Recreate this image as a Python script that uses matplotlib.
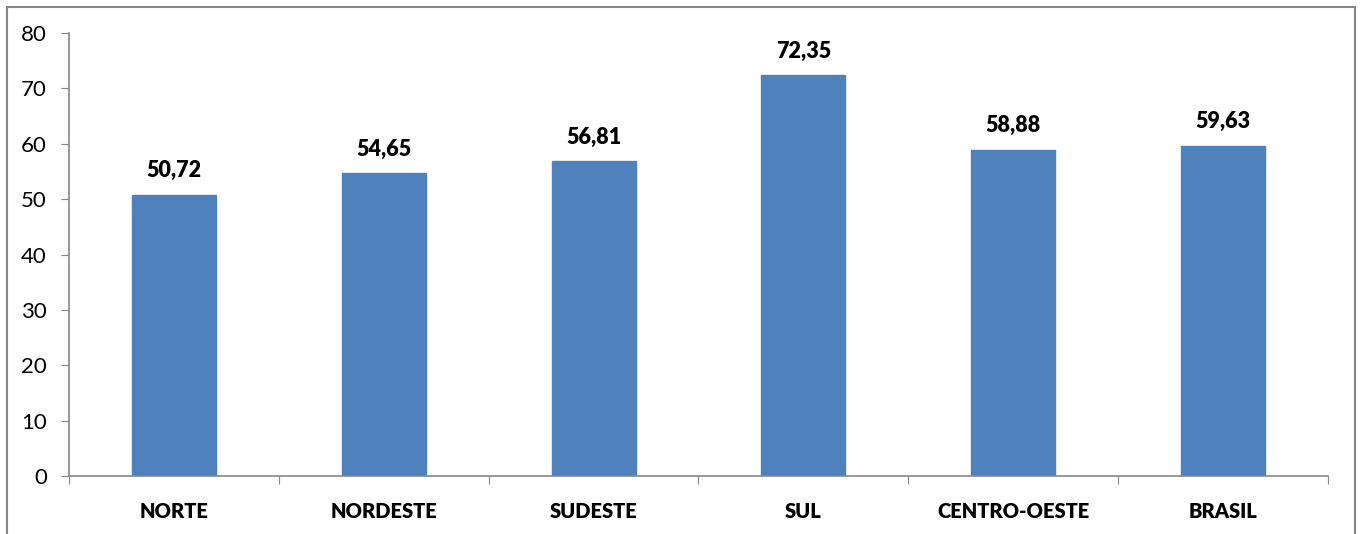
import matplotlib
matplotlib.use("Agg")
import matplotlib.pyplot as plt
from matplotlib.patches import Rectangle

# data
regioes = ["NORTE", "NORDESTE", "SUDESTE", "SUL", "CENTRO-OESTE", "BRASIL"]
valores = [50.72, 54.65, 56.81, 72.35, 58.88, 59.63]
y_ticks = [0, 10, 20, 30, 40, 50, 60, 70, 80]

plt.rcParams['font.family'] = ['Lato', 'DejaVu Sans']

fig = plt.figure(figsize=(13.61, 5.34), dpi=100)
ax = fig.add_axes([0.0507, 0.1086, 0.925, 0.8296])

# outer chart border (Excel-style frame)
fig.patches.append(Rectangle((7 / 1361, -0.05), 1348 / 1361, 1.05 - 7 / 534,
                             transform=fig.transFigure, fill=False,
                             edgecolor="#868686", linewidth=1.5))

x = list(range(len(regioes)))
bars = ax.bar(x, valores, width=0.4, color="#4F81BD", edgecolor="#4F81BD")

for b, v in zip(bars, valores):
    ax.annotate(f"{v:.2f}".replace(".", ","),
                (b.get_x() + b.get_width() / 2, v),
                xytext=(0, 10), textcoords="offset points",
                ha="center", va="bottom", fontsize=15.5, fontweight="heavy")

ax.set_xlim(-0.5, len(regioes) - 0.5)
ax.set_ylim(0, 80)
ax.set_yticks(y_ticks)
ax.tick_params(axis="y", labelsize=16, length=6, color="#868686", pad=10)

# category labels centred, tick marks between categories
ax.set_xticks([i - 0.5 for i in range(len(regioes) + 1)])
ax.set_xticklabels([])
ax.set_xticks(x, minor=True)
ax.set_xticklabels(regioes, minor=True, fontsize=14.5, fontweight="heavy")
ax.tick_params(axis="x", which="major", length=6, color="#868686")
ax.tick_params(axis="x", which="minor", length=0, pad=19)

for s in ["top", "right"]:
    ax.spines[s].set_visible(False)
for s in ["left", "bottom"]:
    ax.spines[s].set_color("#868686")
    ax.spines[s].set_linewidth(1.2)

fig.savefig("out.png", dpi=100)
